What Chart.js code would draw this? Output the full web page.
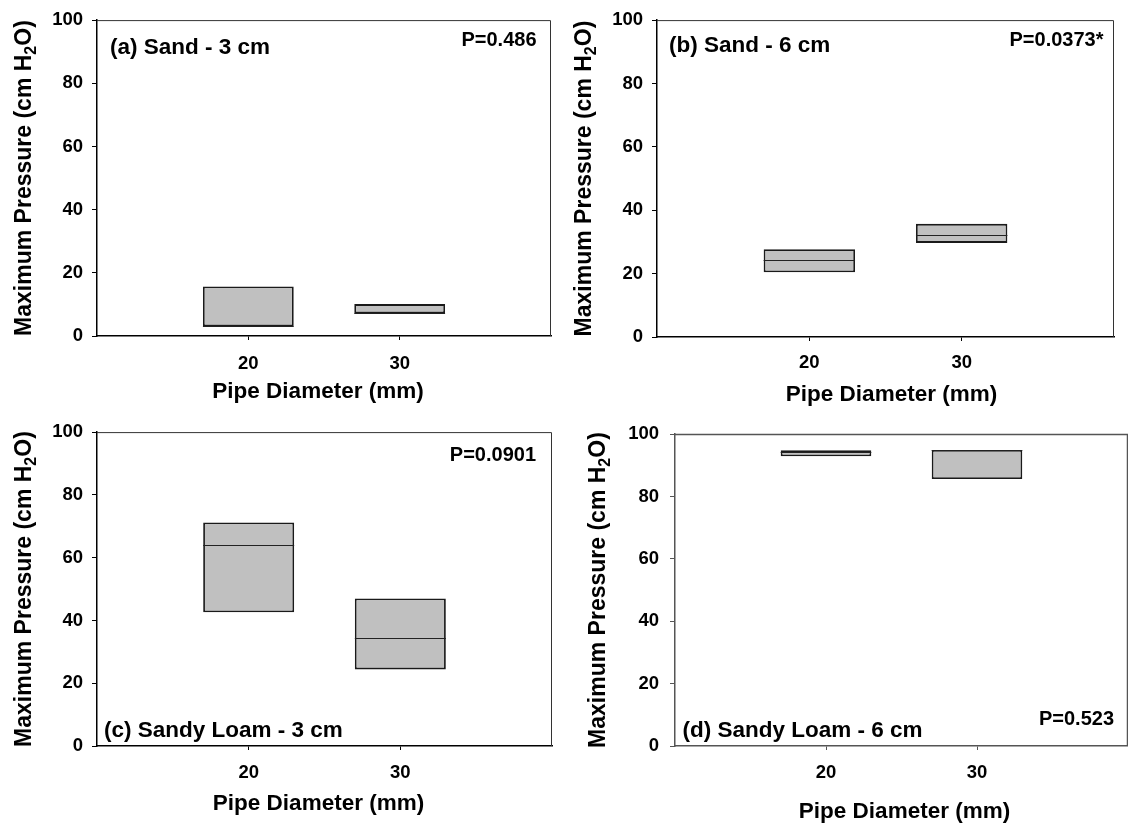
<!DOCTYPE html>
<html>
<head>
<meta charset="utf-8">
<title>Maximum Pressure vs Pipe Diameter</title>
<script src="https://cdn.jsdelivr.net/npm/chart.js@4"></script>
<style>
  html, body { margin: 0; padding: 0; background: #fff; overflow: hidden; }
  body { width: 1128px; height: 824px; position: relative; }
  canvas { position: absolute; }
</style>
</head>
<body>
<canvas id="pa" width="564" height="412" style="left:0px;top:0px"></canvas>
<canvas id="pb" width="564" height="412" style="left:564px;top:0px"></canvas>
<canvas id="pc" width="564" height="412" style="left:0px;top:412px"></canvas>
<canvas id="pd" width="576" height="412" style="left:564px;top:412px"></canvas>
<script>
// category slots on the x axis; only 20 and 30 mm carry boxes
const diameters = ['10', '20', '30', '40'];
const shownDiameters = ['20', '30'];
const yTicks = [0, 20, 40, 60, 80, 100];

const panelNames = ['(a) Sand - 3 cm', '(b) Sand - 6 cm', '(c) Sandy Loam - 3 cm', '(d) Sandy Loam - 6 cm'];
const pValues = ['P=0.486', 'P=0.0373*', 'P=0.0901', 'P=0.523'];

// box bottom, top and median for [20 mm, 30 mm] in each panel
const boxLow  = [[3.1, 7.2], [20.4, 29.7], [42.6, 24.4], [92.9, 85.6]];
const boxHigh = [[15.7, 10.1], [27.7, 35.7], [71.2, 47.0], [94.8, 94.9]];
const medians = [[3.1, 7.2], [24.4, 32.1], [64.1, 34.5], [94.3, 94.9]];

const xTitle = 'Pipe Diameter (mm)';
const yTitle = ['Maximum Pressure (cm H', '2', 'O)'];

const FONT = '"Liberation Sans", Arial, Helvetica, sans-serif';

// plot area in canvas pixels [left, top, right, bottom] and text offsets
const layouts = [
  { id: 'pa', w: 564, h: 412, area: [97, 17, 553, 336], axis: '#000', frame: '#333', frameW: 1,
    yTitleX: 23, yGap: 9, xPad: 13, xTitleDx: -6, xTitleDy: 62,
    name: [13, 'top', 34], p: [-14.5, 'top', 26] },
  { id: 'pb', w: 564, h: 412, area: [93, 17, 550, 337], axis: '#000', frame: '#333', frameW: 1,
    yTitleX: 19, yGap: 9, xPad: 11, xTitleDx: 6, xTitleDy: 64,
    name: [12, 'top', 32], p: [-10.5, 'top', 26] },
  { id: 'pc', w: 564, h: 412, area: [97, 14, 553, 334], axis: '#000', frame: '#333', frameW: 1,
    yTitleX: 23, yGap: 9, xPad: 12, xTitleDx: -6, xTitleDy: 64,
    name: [7, 'bottom', -9], p: [-16, 'top', 29] },
  { id: 'pd', w: 576, h: 412, area: [111, 14, 567, 334], axis: '#555', frame: '#555', frameW: 1.5,
    yTitleX: 33, yGap: 11, xPad: 12, xTitleDx: 3, xTitleDy: 72,
    name: [7.5, 'bottom', -9], p: [-14, 'bottom', -21] }
];

function drawYTitle(ctx, cx, cy, size) {
  const big = 'bold ' + size + 'px ' + FONT;
  const small = 'bold ' + Math.round(size * 0.68) + 'px ' + FONT;
  const parts = [[yTitle[0], big, 0], [yTitle[1], small, size * 0.2], [yTitle[2], big, 0]];
  ctx.save();
  ctx.translate(cx, cy);
  ctx.rotate(-Math.PI / 2);
  ctx.fillStyle = '#000';
  ctx.textBaseline = 'alphabetic';
  ctx.textAlign = 'left';
  let total = 0;
  parts.forEach(p => { ctx.font = p[1]; total += ctx.measureText(p[0]).width; });
  let x = -total / 2;
  const base = size * 0.358;
  parts.forEach(p => {
    ctx.font = p[1];
    ctx.fillText(p[0], x, base + p[2]);
    x += ctx.measureText(p[0]).width;
  });
  ctx.restore();
}

const panelDecor = {
  id: 'panelDecor',
  afterDatasetsDraw(chart, args, opts) {
    const ctx = chart.ctx;
    const y = chart.scales.y;
    const meta = chart.getDatasetMeta(0);
    ctx.save();
    ctx.strokeStyle = '#222';
    ctx.lineWidth = 1.2;
    meta.data.forEach((el, i) => {
      const m = opts.medians[i - 1];
      if (m == null || !el || el.width == null) return;
      const py = Math.round(y.getPixelForValue(m)) + 0.5;
      ctx.beginPath();
      ctx.moveTo(el.x - el.width / 2, py);
      ctx.lineTo(el.x + el.width / 2, py);
      ctx.stroke();
    });
    ctx.restore();
  },
  afterDraw(chart, args, opts) {
    const ctx = chart.ctx;
    const a = chart.chartArea;
    const L = opts.layout;
    ctx.save();
    ctx.strokeStyle = L.frame;
    ctx.lineWidth = L.frameW;
    ctx.beginPath();
    ctx.moveTo(a.left, a.top + 0.5);
    ctx.lineTo(a.right - 0.5, a.top + 0.5);
    ctx.lineTo(a.right - 0.5, a.bottom);
    ctx.stroke();

    ctx.fillStyle = '#000';
    // x axis title
    ctx.font = 'bold 22.5px ' + FONT;
    ctx.textAlign = 'center';
    ctx.textBaseline = 'alphabetic';
    ctx.fillText(xTitle, (a.left + a.right) / 2 + L.xTitleDx, a.bottom + L.xTitleDy);

    // panel name
    ctx.textAlign = 'left';
    const nb = L.name[1] === 'top' ? a.top + L.name[2] : a.bottom + L.name[2];
    ctx.fillText(opts.name, a.left + L.name[0], nb);

    // p value
    ctx.font = 'bold 20px ' + FONT;
    ctx.textAlign = 'right';
    const pb = L.p[1] === 'top' ? a.top + L.p[2] : a.bottom + L.p[2];
    ctx.fillText(opts.p, a.right + L.p[0], pb);
    ctx.restore();

    drawYTitle(ctx, L.yTitleX, (a.top + a.bottom) / 2, 23);
  }
};

layouts.forEach((L, k) => {
  const [left, top, right, bottom] = L.area;
  const data = diameters.map(d => {
    const j = shownDiameters.indexOf(d);
    return j < 0 ? null : [boxLow[k][j], boxHigh[k][j]];
  });
  new Chart(document.getElementById(L.id), {
    type: 'bar',
    data: {
      labels: diameters,
      datasets: [{
        data: data,
        backgroundColor: '#c0c0c0',
        borderColor: '#1a1a1a',
        borderWidth: 1.8,
        borderSkipped: false,
        barPercentage: 0.6,
        categoryPercentage: 1
      }]
    },
    options: {
      responsive: false,
      animation: false,
      devicePixelRatio: 1,
      layout: { padding: { left: 0, top: top, right: L.w - right, bottom: 0 } },
      plugins: {
        legend: { display: false },
        tooltip: { enabled: false },
        panelDecor: { layout: L, name: panelNames[k], p: pValues[k], medians: medians[k] }
      },
      scales: {
        x: {
          type: 'category',
          offset: false,
          grid: {
            offset: false,
            drawOnChartArea: false,
            drawTicks: true,
            tickLength: 4,
            tickColor: c => shownDiameters.includes(diameters[c.index]) ? L.axis : 'rgba(0,0,0,0)'
          },
          border: { color: L.axis, width: 1.5 },
          ticks: {
            padding: L.xPad,
            color: '#000',
            maxRotation: 0,
            autoSkip: false,
            font: { family: FONT, size: 18.5, weight: 'bold' },
            callback: function (v, i) { return shownDiameters.includes(diameters[i]) ? diameters[i] : ''; }
          },
          afterFit: s => { s.height = L.h - bottom; }
        },
        y: {
          min: yTicks[0],
          max: yTicks[yTicks.length - 1],
          grid: { drawOnChartArea: false, drawTicks: true, tickLength: 5, tickColor: L.axis },
          border: { color: L.axis, width: 1.5 },
          ticks: {
            stepSize: yTicks[1] - yTicks[0],
            padding: L.yGap,
            color: '#000',
            font: { family: FONT, size: 18.5, weight: 'bold' }
          },
          afterFit: s => { s.width = left; }
        }
      }
    },
    plugins: [panelDecor]
  });
});
</script>
</body>
</html>
